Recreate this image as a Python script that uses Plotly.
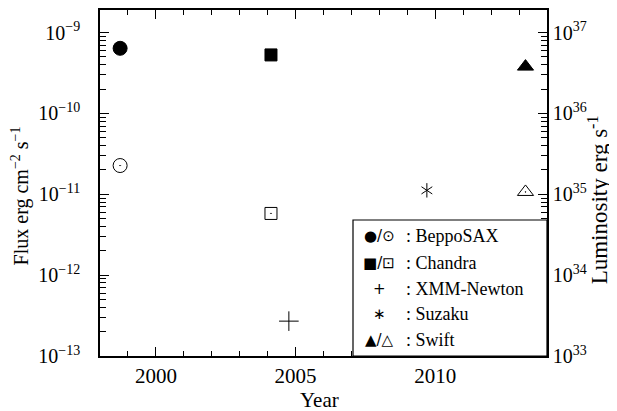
import plotly.graph_objects as go

# Data
bepposax_year = [1998.72]
bepposax_flux_hi = [6.4e-10]
bepposax_flux_lo = [2.27e-11]
chandra_year = [2004.12]
chandra_flux_hi = [5.3e-10]
chandra_flux_lo = [5.8e-12]
xmm_year = [2004.76]
xmm_flux = [2.7e-13]
suzaku_year = [2009.7]
suzaku_flux = [1.12e-11]
swift_year = [2013.23]
swift_flux_hi = [3.8e-10]
swift_flux_lo = [1.07e-11]

flux_ticks = [1e-13, 1e-12, 1e-11, 1e-10, 1e-9]
flux_ticktext = ["10<sup>−13</sup>", "10<sup>−12</sup>", "10<sup>−11</sup>", "10<sup>−10</sup>", "10<sup>−9</sup>"]
lum_ticks = [1e33, 1e34, 1e35, 1e36, 1e37]
lum_ticktext = ["10<sup>33</sup>", "10<sup>34</sup>", "10<sup>35</sup>", "10<sup>36</sup>", "10<sup>37</sup>"]
year_ticks = [2000, 2005, 2010]

legend_symbols = ["●/⊙", "■/⊡", "+", "∗", "▲/△"]
legend_names = [": BeppoSAX", ": Chandra", ": XMM-Newton", ": Suzaku", ": Swift"]

FONT = "Liberation Serif"
fig = go.Figure()

def add(x, y, symbol, size, lw=1):
    fig.add_trace(go.Scatter(x=x, y=y, mode="markers", showlegend=False,
                             marker=dict(symbol=symbol, size=size, color="black",
                                         line=dict(color="black", width=lw))))

add(bepposax_year, bepposax_flux_hi, "circle", 14)
add(bepposax_year, bepposax_flux_lo, "circle-open-dot", 14)
add(chandra_year, chandra_flux_hi, "square", 12)
add(chandra_year, chandra_flux_lo, "square-open-dot", 12)
add(xmm_year, xmm_flux, "cross-thin-open", 14)
add(suzaku_year, suzaku_flux, "y-up-open", 9)
add(suzaku_year, suzaku_flux, "y-down-open", 9)
add(swift_year, swift_flux_hi, "triangle-up", 14)
add(swift_year, swift_flux_lo, "triangle-up-open-dot", 14)

# empty trace to anchor the right axis
fig.add_trace(go.Scatter(x=[], y=[], yaxis="y2", showlegend=False))

axis_common = dict(showline=True, linecolor="black", linewidth=1.5, ticks="inside",
                   tickcolor="black", showgrid=False, zeroline=False)

# page body has an 8px margin, so shift the figure margins accordingly
fig.update_layout(
    width=617, height=411,
    margin=dict(l=92, r=78, t=0, b=63),
    plot_bgcolor="white", paper_bgcolor="white",
    font=dict(family=FONT, color="black"),
    xaxis=dict(range=[1998, 2014], tickvals=year_ticks, ticklen=9, mirror="ticks",
               minor=dict(ticks="inside", ticklen=5, dtick=1, tickcolor="black", showgrid=False),
               tickfont=dict(family=FONT, size=21, color="black"), ticklabelstandoff=0,
               **axis_common),
    yaxis=dict(type="log", range=[-13, -8.72], tickvals=flux_ticks, ticktext=flux_ticktext,
               ticklen=9, tickfont=dict(family=FONT, size=20, color="black"), ticklabelstandoff=14,
               minor=dict(ticks="inside", ticklen=6, dtick="D1", tickcolor="black", showgrid=False),
               **axis_common),
    yaxis2=dict(type="log", range=[33, 37.28], overlaying="y", side="right",
                tickvals=lum_ticks, ticktext=lum_ticktext, ticklen=9,
                tickfont=dict(family=FONT, size=20, color="black"), ticklabelstandoff=0,
                minor=dict(ticks="inside", ticklen=6, dtick="D1", tickcolor="black", showgrid=False),
                **axis_common),
)

# axis titles
fig.add_annotation(xref="paper", yref="paper", x=(319 - 100) / 447, y=(356 - 400) / 349,
                   text="Year", showarrow=False, xanchor="center", yanchor="middle",
                   font=dict(family=FONT, size=21, color="black"))
fig.add_annotation(xref="paper", yref="paper", x=(20 - 100) / 447, y=(356 - 195) / 349,
                   text="Flux erg cm<sup>−2</sup> s<sup>−1</sup>", textangle=-90, showarrow=False,
                   xanchor="center", yanchor="middle", font=dict(family=FONT, size=20, color="black"))
fig.add_annotation(xref="paper", yref="paper", x=(598 - 100) / 447, y=(356 - 199) / 349,
                   text="Luminosity erg s<sup>-1</sup>", textangle=-90, showarrow=False,
                   xanchor="center", yanchor="middle", font=dict(family=FONT, size=23, color="black"))

# legend box
fig.add_shape(type="rect", xref="paper", yref="paper", x0=0.566, x1=1.0, y0=0.0, y1=0.393,
              line=dict(color="black", width=1.2), fillcolor="white", layer="above")

row_y_px = [235, 262, 288, 314, 340]
for sym, name, ypx in zip(legend_symbols, legend_names, row_y_px):
    yp = (356 - ypx) / 349
    fig.add_annotation(xref="paper", yref="paper", x=(379 - 100) / 447, y=yp, text=sym,
                       showarrow=False, xanchor="center", yanchor="middle",
                       font=dict(family="DejaVu Sans", size=15, color="black"))
    fig.add_annotation(xref="paper", yref="paper", x=(404 - 100) / 447, y=yp, text=name,
                       showarrow=False, xanchor="left", yanchor="middle",
                       font=dict(family=FONT, size=18, color="black"))

fig.write_html("out.html")
